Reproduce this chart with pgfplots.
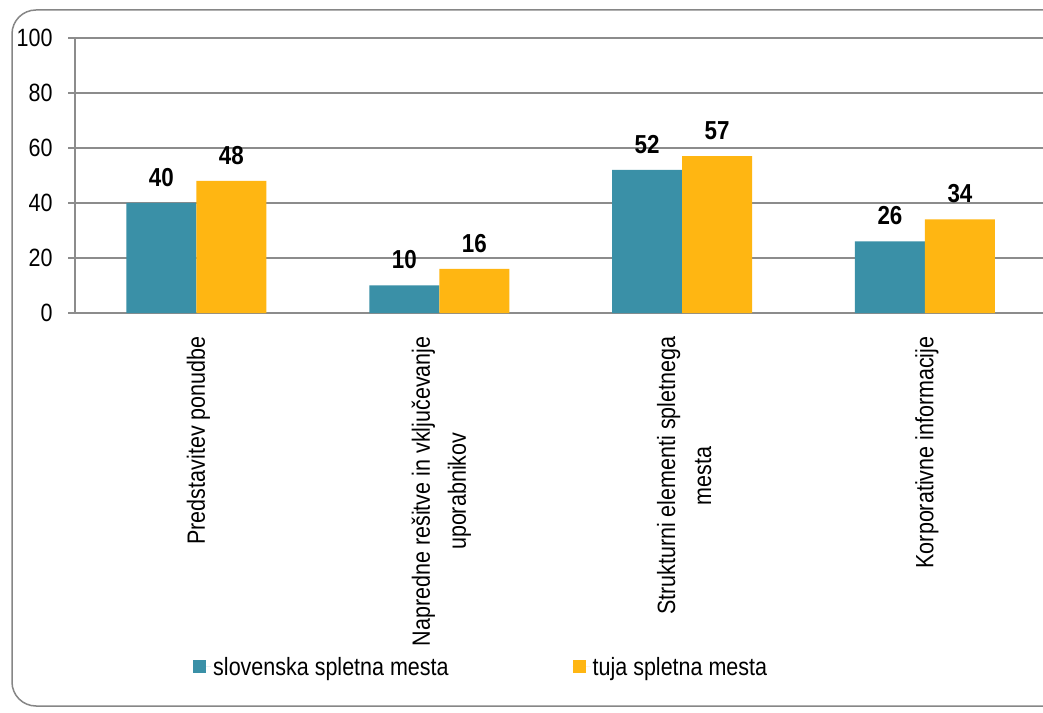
\documentclass[border=0pt]{standalone}
\usepackage{fontspec}
\setmainfont[FakeStretch=0.86]{Liberation Sans}
\usepackage{pgfplots}
\pgfplotsset{compat=1.18}
\definecolor{teal1}{RGB}{58,144,167}
\definecolor{orange1}{RGB}{255,182,18}
\definecolor{gridc}{RGB}{140,140,140}
\definecolor{framec}{RGB}{134,134,134}
\begin{document}
\begin{tikzpicture}[x=1pt,y=1pt]
\path[use as bounding box] (0,0) rectangle (1043,712);
\clip (0,0) rectangle (1043,712);
\fill[white] (0,0) rectangle (1043,712);
\draw[framec, line width=1.5pt, rounded corners=24pt] (12,6) rectangle (1080,702);
\begin{axis}[
  at={(75pt,399pt)}, anchor=south west,
  scale only axis, width=971.4pt, height=275pt,
  font=\fontsize{25}{36}\selectfont,
  /pgf/number format/assume math mode=true,
  ybar, bar width=70pt,
  xmin=-0.5, xmax=3.5, ymin=0, ymax=100,
  ytick={0,20,40,60,80,100},
  xtick={0,1,2,3},
  xticklabels={Predstavitev ponudbe, {Napredne rešitve in vključevanje\\uporabnikov}, {Strukturni elementi spletnega\\mesta}, Korporativne informacije},
  extra x ticks={-0.5,0.5,1.5,2.5},
  extra x tick labels={},
  extra x tick style={major tick length=7pt, tick style={gridc, line width=1.5pt}},
  major x tick style={draw=none},
  axis x line*=bottom, axis y line*=left,
  axis line style={gridc, line width=1.5pt},
  tick align=outside,
  major tick length=7pt,
  ytick style={gridc, line width=1.5pt},
  ymajorgrids, grid style={gridc, line width=1.5pt},
  xticklabel style={rotate=90, anchor=east, align=center, xshift=-13pt, yshift=-2pt},
  yticklabel style={xshift=-12pt},
  nodes near coords,
  every node near coord/.append style={font=\fontsize{26}{30}\selectfont\bfseries, yshift=13pt},
  legend columns=2,
  legend style={at={(axis description cs:0.1215,-1.287)}, anchor=west, draw=none, fill=none, inner sep=0pt,
    /tikz/every even column/.append style={column sep=122pt}},
  legend image code/.code={\path (0pt,0pt) -- (18pt,0pt); \fill[#1] (0pt,-6.5pt) rectangle (13pt,6.5pt);},
]
\addplot[fill=teal1, draw=none, bar shift=-35pt] coordinates {(0,40) (1,10) (2,52) (3,26)};
\addplot[fill=orange1, draw=none, bar shift=35pt] coordinates {(0,48) (1,16) (2,57) (3,34)};
\legend{slovenska spletna mesta, tuja spletna mesta}
\end{axis}
\end{tikzpicture}
\end{document}
